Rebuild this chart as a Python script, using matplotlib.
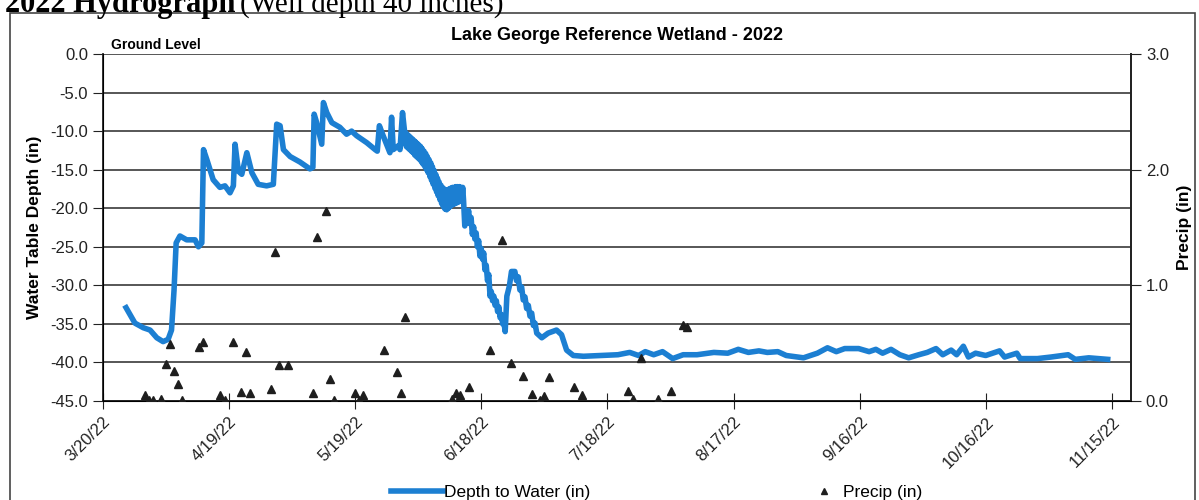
import numpy as np
import pandas as pd
import matplotlib
matplotlib.use("Agg")
import matplotlib.pyplot as plt
import matplotlib.dates as mdates
from matplotlib.lines import Line2D
from matplotlib.patches import Rectangle

plt.rcParams['font.family'] = ['Liberation Sans', 'DejaVu Sans']

start = pd.Timestamp("2022-03-20")

# depth to water, days after 3/20/22 and inches below ground
depth_day = [5.6, 7.7, 9.7, 11.3, 12.9, 14.4, 15.6, 16.4, 17.0, 17.5, 18.4, 20.0, 22.0, 22.8, 23.6,
             24.0, 24.8, 26.3, 27.9, 29.1, 30.3, 31.1, 31.5, 32.3, 33.1, 34.3, 35.5, 37.0, 39.0, 40.6,
             41.4, 42.2, 43.0, 44.6, 46.9, 49.3, 50.0, 50.3, 50.9, 52.1, 52.5, 53.3, 54.5, 56.4, 58.0,
             59.2, 60.4, 62.8, 64.8, 65.3, 65.8, 66.7, 68.3, 68.7, 69.1, 70.3, 70.7, 71.3, 71.9,
             72.0, 72.2, 72.4, 72.6, 72.8, 73.0, 73.2, 73.4, 73.6, 73.8, 74.0, 74.2, 74.4, 74.6, 74.8,
             75.0, 75.2, 75.4, 75.6, 75.8, 76.0, 76.2, 76.4, 76.6, 76.8, 77.0, 77.2, 77.4, 77.6, 77.8,
             78.0, 78.2, 78.4, 78.6, 78.8, 79.0, 79.2, 79.4, 79.6, 79.8, 80.0, 80.2, 80.4, 80.6, 80.8,
             81.0, 81.2, 81.4, 81.6, 81.8, 82.0, 82.2, 82.4, 82.6, 82.8, 83.0, 83.2, 83.4, 83.6, 83.8,
             84.0, 84.2, 84.4, 84.6, 84.8, 85.0, 85.2, 85.4, 85.6, 85.8,
             86.1, 86.4, 86.7, 87.0, 87.3, 87.6, 87.9, 88.2, 88.5, 88.8, 89.1, 89.4, 89.7, 90.0, 90.3,
             90.6, 90.9, 91.2, 91.5, 91.8, 92.1, 92.4, 92.7, 93.0, 93.3, 93.6, 93.9, 94.2, 94.5, 94.8,
             95.1, 95.4, 95.7, 96.1, 96.7, 97.2, 98.0, 98.4, 98.8, 99.2, 99.6, 100.0, 100.4, 100.8,
             101.2, 101.6, 102.0, 102.4, 102.8, 103.2, 104.4, 105.9, 107.9, 109.1,
             110.3, 111.9, 114.3, 118.4, 122.5, 125.3, 127.4, 129.0, 131.0, 133.1, 135.5, 138.0,
             141.3, 145.3, 148.6, 151.1, 153.5, 156.0, 158.0, 160.5, 162.5, 166.6, 169.9, 172.3,
             174.4, 176.4, 179.7, 182.2, 183.8, 185.4, 187.4, 189.5, 191.6, 194.0, 196.0, 198.1,
             199.7, 201.7, 203.0, 204.6, 205.8, 207.5, 209.9, 213.2, 214.4, 217.3, 218.1, 222.2,
             225.4, 229.5, 231.2, 234.4, 238.9]
depth_in = [-32.9, -34.9, -35.5, -35.8, -36.8, -37.3, -37.0, -35.8, -30.6, -24.5, -23.6, -24.1, -24.1, -25.0, -24.5,
            -12.4, -13.7, -16.3, -17.3, -17.1, -18.0, -17.1, -11.7, -15.2, -15.6, -12.8, -15.4, -16.9, -17.1, -16.9,
            -9.1, -9.3, -12.4, -13.3, -14.0, -14.9, -14.7, -7.8, -8.9, -11.7, -6.3, -7.6, -8.9, -9.5, -10.4,
            -10.0, -10.6, -11.5, -12.4, -12.6, -9.3, -10.6, -12.8, -8.2, -12.4, -11.9, -12.4, -7.6, -10.6,
            -10.2, -12.0, -10.4, -12.2, -10.6, -12.4, -10.8, -12.6, -11.0, -12.8, -11.2, -13.1, -11.4, -13.3, -11.6,
            -13.5, -11.8, -13.7, -12.0, -14.0, -12.3, -14.3, -12.6, -14.6, -12.9, -15.0, -13.3, -15.4, -13.7, -15.9,
            -14.1, -16.4, -14.6, -16.9, -15.1, -17.4, -15.6, -17.9, -16.1, -18.4, -16.6, -18.9, -17.0, -19.4, -17.3,
            -19.8, -17.5, -20.1, -17.6, -20.2, -17.6, -20.0, -17.5, -19.8, -17.4, -19.6, -17.3, -19.5, -17.3, -19.4,
            -17.2, -19.3, -17.2, -19.2, -17.2, -19.1, -17.3, -19.0, -17.3, -18.9,
            -22.3, -20.4, -21.8, -20.3, -22.0, -21.2, -23.4, -22.4, -24.0, -23.2, -25.0, -24.2, -26.2, -25.2, -26.6,
            -25.8, -28.0, -27.4, -29.4, -28.6, -31.4, -30.8, -32.0, -31.4, -32.6, -32.0, -33.4, -32.8, -34.2, -33.8,
            -35.0, -34.8, -36.0, -31.4, -30.1, -28.2, -28.2, -29.4, -28.9, -30.6, -30.2, -31.9, -31.5, -33.0,
            -32.6, -34.0, -33.6, -35.2, -34.9, -36.2, -36.8, -36.2, -35.8, -36.4,
            -38.4, -39.1, -39.2, -39.1, -39.0, -38.7, -39.1, -38.6, -39.0, -38.6, -39.5, -39.0,
            -39.0, -38.7, -38.8, -38.3, -38.7, -38.5, -38.7, -38.6, -39.1, -39.4, -38.8, -38.1,
            -38.6, -38.2, -38.2, -38.6, -38.3, -38.8, -38.3, -39.0, -39.4, -39.0, -38.7, -38.2,
            -39.0, -38.4, -39.0, -37.9, -39.3, -38.8, -39.1, -38.5, -39.3, -38.8, -39.5, -39.5,
            -39.3, -39.0, -39.6, -39.4, -39.6]

# daily precipitation, days after 3/20/22 and inches
precip_day = [10, 11, 12, 14, 15, 16, 17, 18, 19, 23, 24, 28, 29, 31, 33, 34, 35, 40, 41, 42, 44,
              50, 51, 53, 54, 55, 60, 61, 62, 67, 70, 71, 72, 83, 84, 85, 87, 92, 95, 97, 100, 102,
              104, 105, 106, 112, 114, 125, 126, 128, 132, 135, 138, 139]
precip_in = [0.05, 0.01, 0.01, 0.02, 0.32, 0.49, 0.26, 0.15, 0.01, 0.47, 0.51, 0.05, 0.01, 0.51, 0.08,
             0.42, 0.07, 0.10, 1.29, 0.31, 0.31, 0.07, 1.42, 1.64, 0.19, 0.01, 0.07, 0.01, 0.05, 0.44,
             0.25, 0.07, 0.73, 0.02, 0.07, 0.05, 0.12, 0.44, 1.39, 0.33, 0.22, 0.06, 0.01, 0.04, 0.21,
             0.12, 0.05, 0.09, 0.02, 0.37, 0.02, 0.09, 0.66, 0.64]

depth_dates = start + pd.to_timedelta(depth_day, unit="D")
precip_dates = start + pd.to_timedelta(precip_day, unit="D")

blue = "#1c7fd2"
fig = plt.figure(figsize=(11.99, 5.0), dpi=100)
ax = fig.add_axes([0.0855, 0.198, 0.858, 0.694])

ax.plot(depth_dates, depth_in, color=blue, lw=4.0, solid_joinstyle="round", zorder=3)
ax.set_ylim(-45, 0)
ax.set_yticks(np.arange(-45, 0.1, 5))
ax.yaxis.set_major_formatter(plt.FormatStrFormatter("%.1f"))
ax.set_xlim(start, pd.Timestamp("2022-11-19 12:00"))
ax.set_xticks(pd.date_range(start, periods=9, freq="30D"))
ax.xaxis.set_major_formatter(plt.FuncFormatter(
    lambda v, pos: "{d.month}/{d.day}/{d:%y}".format(d=mdates.num2date(v))))
ax.grid(axis="y", color="#3a3a3a", lw=1.2)
ax.set_axisbelow(True)
ax.spines["top"].set_visible(False)
for s in ["left", "bottom", "right"]:
    ax.spines[s].set_color("#222")
    ax.spines[s].set_linewidth(1.3)
ax.tick_params(axis="y", direction="out", length=7, labelsize=12, colors="#222")
ax.tick_params(axis="x", direction="inout", length=12, labelsize=12, colors="#222")
plt.setp(ax.get_xticklabels(), rotation=45, ha="right", va="top", rotation_mode="anchor")
ax.set_ylabel("Water Table Depth (in)", fontsize=12.5, fontweight="bold", labelpad=6)

ax2 = ax.twinx()
ax2.plot(precip_dates, precip_in, linestyle="none", marker="^", markersize=6,
         color="#1e1e1e", zorder=4)
ax2.set_ylim(0, 3)
ax2.set_yticks([0, 1, 2, 3])
ax2.yaxis.set_major_formatter(plt.FormatStrFormatter("%.1f"))
ax2.tick_params(axis="y", direction="out", length=7, labelsize=12, colors="#222")
ax2.spines["top"].set_visible(False)
ax2.spines["right"].set_color("#222")
ax2.spines["right"].set_linewidth(1.3)
ax2.set_ylabel("Precip (in)", fontsize=12.5, fontweight="bold", labelpad=6)

ax.set_title("Lake George Reference Wetland - 2022", fontsize=13, fontweight="bold", pad=10)
ax.text(0.008, 1.013, "Ground Level", transform=ax.transAxes, fontsize=10, fontweight="bold")

# header cut off at top of the page
fig.text(5 / 1199, 1 - 12 / 500, "2022 Hydrograph", fontfamily="Liberation Serif",
         fontweight="bold", fontsize=22, va="baseline")
fig.text(240 / 1199, 1 - 12 / 500, "(Well depth 40 inches)", fontfamily="Liberation Serif",
         fontsize=21, va="baseline")
fig.patches.append(Rectangle((10 / 1199, -0.1), 1185 / 1199, 1.1 - 13 / 500,
                             transform=fig.transFigure, fill=False, ec="#444", lw=1.2))

fig.legend([Line2D([], [], color=blue, lw=4.0)], ["Depth to Water (in)"], loc="center left",
           bbox_to_anchor=(375 / 1199, 0.016), frameon=False, fontsize=12.5,
           handlelength=3.0, handletextpad=0.1)
fig.legend([Line2D([], [], ls="none", marker="^", color="#1e1e1e", markersize=5)], ["Precip (in)"],
           loc="center left", bbox_to_anchor=(800 / 1199, 0.016), frameon=False, fontsize=12.5,
           handlelength=1.0, handletextpad=0.6)

fig.savefig("out.png", dpi=100)
